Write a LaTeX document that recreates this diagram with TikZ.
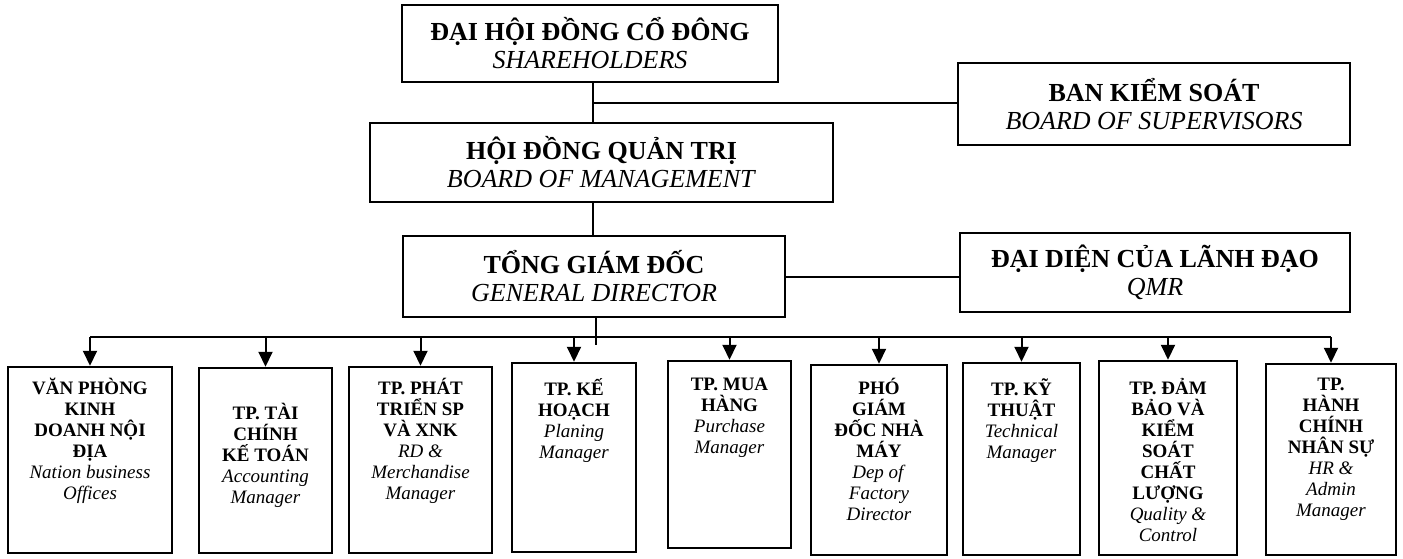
\documentclass[tikz,border=0pt]{standalone}
\usepackage{fontspec}
\setmainfont{Liberation Serif}
\usetikzlibrary{arrows.meta}
\begin{document}
\begin{tikzpicture}[x=1pt,y=-1pt,
  topbox/.style={draw, line width=2.2pt, inner sep=0pt, align=center, font=\fontsize{26}{28}\selectfont},
  dbox/.style={draw, line width=2.5pt, inner sep=0pt},
  dtext/.style={anchor=north, inner sep=0pt, align=center, font=\fontsize{19}{21}\selectfont, execute at begin node=\rule{0pt}{17pt}},
  conn/.style={line width=2pt},
  busline/.style={line width=2.4pt},
  arr/.style={line width=2pt, -{Triangle[length=15pt,width=14pt]}}
]
\fill[white] (0,0) rectangle (1403,558);
\useasboundingbox (0,0) rectangle (1403,558);

% upper boxes
\node[topbox, minimum width=376pt, minimum height=77pt] (dhcd) at (590,43.5)
  {\textbf{ĐẠI HỘI ĐỒNG CỔ ĐÔNG}\\\textit{SHAREHOLDERS}};
\node[topbox, minimum width=463pt, minimum height=79pt] (hdqt) at (601.5,162.5)
  {\textbf{HỘI ĐỒNG QUẢN TRỊ}\\\textit{BOARD OF MANAGEMENT}};
\node[topbox, minimum width=392pt, minimum height=82pt] (bks) at (1154,104)
  {\textbf{BAN KIỂM SOÁT}\\\textit{BOARD OF SUPERVISORS}};
\node[topbox, minimum width=382pt, minimum height=81pt] (tgd) at (594,276.5)
  {\textbf{TỔNG GIÁM ĐỐC}\\\textit{GENERAL DIRECTOR}};
\node[topbox, minimum width=390pt, minimum height=79pt] (qmr) at (1155,272.5)
  {\textbf{ĐẠI DIỆN CỦA LÃNH ĐẠO}\\\textit{QMR}};

% department boxes
\node[dbox, minimum width=164pt, minimum height=186pt] (b1) at (90,460) {};
\node[dbox, minimum width=133pt, minimum height=185pt] (b2) at (265.5,460.5) {};
\node[dbox, minimum width=143pt, minimum height=186pt] (b3) at (420.5,460) {};
\node[dbox, minimum width=124pt, minimum height=189pt] (b4) at (574,457.5) {};
\node[dbox, minimum width=123pt, minimum height=187pt] (b5) at (729.5,454.5) {};
\node[dbox, minimum width=136pt, minimum height=190pt] (b6) at (879,460) {};
\node[dbox, minimum width=117pt, minimum height=192pt] (b7) at (1021.5,459) {};
\node[dbox, minimum width=138pt, minimum height=194pt] (b8) at (1168,458) {};
\node[dbox, minimum width=130pt, minimum height=191pt] (b9) at (1331,459.5) {};

\coordinate (ttop) at (0,378);
\coordinate (ttoplow) at (0,403);
\node[dtext] (t1) at (b1 |- ttop) {\textbf{VĂN PHÒNG}\\\textbf{KINH}\\\textbf{DOANH NỘI}\\\textbf{ĐỊA}\\\textit{Nation business}\\\textit{Offices}};
\node[dtext] (t2) at (b2 |- ttoplow) {\textbf{TP. TÀI}\\\textbf{CHÍNH}\\\textbf{KẾ TOÁN}\\\textit{Accounting}\\\textit{Manager}};
\node[dtext] (t3) at (b3 |- ttop) {\textbf{TP. PHÁT}\\\textbf{TRIỂN SP}\\\textbf{VÀ XNK}\\\textit{RD \&}\\\textit{Merchandise}\\\textit{Manager}};
\node[dtext] (t4) at (b4 |- ttop) {\textbf{TP. KẾ}\\\textbf{HOẠCH}\\\textit{Planing}\\\textit{Manager}};
\node[dtext] (t5) at (b5 |- ttop) {\textbf{TP. MUA}\\\textbf{HÀNG}\\\textit{Purchase}\\\textit{Manager}};
\node[dtext] (t6) at (b6 |- ttop) {\textbf{PHÓ}\\\textbf{GIÁM}\\\textbf{ĐỐC NHÀ}\\\textbf{MÁY}\\\textit{Dep of}\\\textit{Factory}\\\textit{Director}};
\node[dtext] (t7) at (b7 |- ttop) {\textbf{TP. KỸ}\\\textbf{THUẬT}\\\textit{Technical}\\\textit{Manager}};
\node[dtext] (t8) at (b8 |- ttop) {\textbf{TP. ĐẢM}\\\textbf{BẢO VÀ}\\\textbf{KIỂM}\\\textbf{SOÁT}\\\textbf{CHẤT}\\\textbf{LƯỢNG}\\\textit{Quality \&}\\\textit{Control}};
\node[dtext] (t9) at (b9 |- ttop) {\textbf{TP.}\\\textbf{HÀNH}\\\textbf{CHÍNH}\\\textbf{NHÂN SỰ}\\\textit{HR \&}\\\textit{Admin}\\\textit{Manager}};

% connectors
\coordinate (sp) at (593,103);
\draw[conn] (sp |- dhcd.south) -- (sp |- hdqt.north);
\draw[conn] (sp) -- (sp -| bks.west);
\draw[conn] (sp |- hdqt.south) -- (sp |- tgd.north);
\draw[conn] (tgd.east) -- (tgd.east -| qmr.west);
\coordinate (stem) at (596,345);
\draw[conn] (stem |- tgd.south) -- (stem);
\coordinate (bus) at (0,337);
\draw[busline] (b1.north |- bus) -- (b9.north |- bus);
\foreach \b in {b1,b2,b3,b4,b5,b6,b7,b8,b9}
  \draw[arr] (\b.north |- bus) -- (\b.north);
\end{tikzpicture}
\end{document}
